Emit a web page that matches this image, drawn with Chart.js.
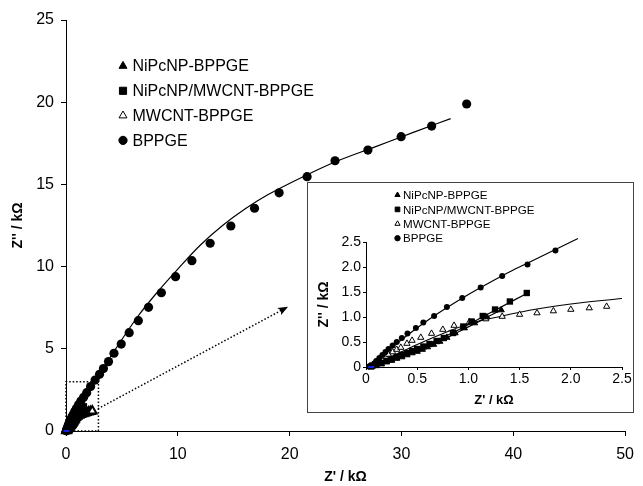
<!DOCTYPE html>
<html>
<head>
<meta charset="utf-8">
<script src="https://cdn.jsdelivr.net/npm/chart.js@4"></script>
<style>
body{margin:0;background:#fff;}
#wrap{position:relative;width:643px;height:486px;}
#wrap canvas{display:block;}
#inset{position:absolute;left:307px;top:182px;width:325px;height:229px;border:1px solid #444;background:#fff;}
</style>
</head>
<body>
<div id="wrap">
  <canvas id="mainChart" width="643" height="486"></canvas>
  <div id="inset"><canvas id="insetChart" width="325" height="229"></canvas></div>
</div>
<script>
// Nyquist plots, Z' / Z'' in kOhm

const seriesNames = ['NiPcNP-BPPGE', 'NiPcNP/MWCNT-BPPGE', 'MWCNT-BPPGE', 'BPPGE'];

// BPPGE (filled circles)
const bppgeX = [0.03,0.05,0.08,0.10,0.13,0.16,0.19,0.22,0.26,0.30,0.35,0.405,0.487,0.56,0.665,0.79,0.94,1.12,1.33,1.577,1.85,2.2,2.6,3.0,3.35,3.8,4.29,4.94,5.65,6.47,7.38,8.53,9.8,11.26,12.89,14.74,16.86,19.06,21.56,24.06,27.0,29.97,32.7,35.83];
const bppgeY = [0.01,0.03,0.07,0.12,0.18,0.24,0.30,0.36,0.43,0.50,0.58,0.67,0.78,0.89,1.02,1.20,1.38,1.59,1.82,2.05,2.33,2.7,3.1,3.45,3.8,4.22,4.73,5.29,5.98,6.71,7.52,8.41,9.39,10.36,11.42,12.47,13.55,14.49,15.47,16.44,17.09,17.90,18.55,19.89];
const bppgeFitX = [0.02,0.1,0.2,0.4,0.6,0.8,1.0,1.2,1.4,1.6,1.85,2.07,2.5,3,4.3,6.4,8.3,10,12,14,16,18,21.3,24,27.7,31,34.4];
const bppgeFitY = [0,0.12,0.3,0.63,0.93,1.2,1.45,1.68,1.9,2.1,2.35,2.57,3.0,3.5,4.85,6.95,8.55,9.85,11.3,12.5,13.5,14.35,15.5,16.35,17.3,18.15,19.0];

// NiPcNP-BPPGE (filled triangles)
const nipcX = [0.06,0.1,0.15,0.2,0.25,0.3,0.35,0.4,0.45,0.5,0.55,0.6,0.66,0.72,0.79,0.87,0.96,1.06,1.18,1.32];
const nipcY = [0.01,0.03,0.06,0.1,0.13,0.17,0.2,0.24,0.28,0.31,0.35,0.4,0.45,0.51,0.59,0.68,0.78,0.88,1.0,1.14];
const nipcFitX = [0.04,0.3,0.6,0.9,1.32];
const nipcFitY = [0,0.17,0.4,0.7,1.14];

// NiPcNP/MWCNT-BPPGE (filled squares)
const hybX = [0.05,0.1,0.15,0.2,0.25,0.3,0.35,0.4,0.45,0.5,0.56,0.62,0.69,0.76,0.85,0.95,1.03,1.14,1.26,1.405,1.57];
const hybY = [0.01,0.04,0.08,0.12,0.16,0.2,0.24,0.28,0.32,0.36,0.41,0.46,0.52,0.58,0.68,0.81,0.91,1.02,1.15,1.31,1.48];
const hybFitX = [0.04,0.3,0.6,0.9,1.2,1.57];
const hybFitY = [0,0.2,0.45,0.74,1.07,1.47];

// MWCNT-BPPGE (open triangles)
const mwX = [0.04,0.07,0.1,0.13,0.16,0.19,0.22,0.26,0.3,0.34,0.4,0.45,0.535,0.64,0.75,0.86,1.01,1.17,1.33,1.5,1.67,1.83,2.0,2.18,2.35];
const mwY = [0.02,0.05,0.09,0.13,0.17,0.21,0.25,0.3,0.35,0.39,0.47,0.53,0.59,0.67,0.75,0.83,0.9,0.96,1.01,1.05,1.08,1.12,1.15,1.18,1.21];
const mwFitX = [0.03,0.2,0.5,0.8,1.0,1.33,1.67,2.0,2.5];
const mwFitY = [0,0.16,0.45,0.71,0.86,1.02,1.16,1.26,1.37];

// zoom box + arrow in the main plot
const zoomBoxX = [0,0,2.9,2.9,0];
const zoomBoxY = [0,3,3,0,0];
const arrowX = [2.85,19.7];
const arrowY = [1.35,7.5];
const originX = [0.05];
const originY = [0];

// tick labels
const mainXTicks = [0,10,20,30,40,50];
const mainYTicks = [0,5,10,15,20,25];
const insetTicks = [0,0.5,1,1.5,2,2.5];

Chart.defaults.font.family = '"Liberation Sans", Arial, sans-serif';
Chart.defaults.color = '#000';

const pts = (xs, ys) => xs.map((x,i)=>({x, y: ys[i]}));
const inRange = (xs, ys, lim) => pts(xs, ys).filter(p => p.x <= lim && p.y <= lim);

// legend drawn inside the plot area
const legendStyles = [
  {style:'triangle', fill:'#000', k:1},
  {style:'rect', fill:'#000', k:1.1},
  {style:'triangle', fill:'#fff', k:1},
  {style:'circle', fill:'#000', k:0.9},
];
const boxLegend = {
  id: 'boxLegend',
  afterDraw(chart, args, opts) {
    const ctx = chart.ctx;
    ctx.save();
    ctx.font = opts.font;
    ctx.textBaseline = 'middle';
    ctx.lineWidth = 1;
    ctx.strokeStyle = '#000';
    seriesNames.forEach((name, i) => {
      const y = opts.y + i*opts.dy;
      const s = legendStyles[i];
      ctx.fillStyle = s.fill;
      Chart.helpers.drawPoint(ctx, {pointStyle:s.style, radius:opts.r*s.k, rotation:0, borderWidth:1}, opts.x, y);
      ctx.fillStyle = '#000';
      ctx.fillText(name, opts.textX, y+1);
    });
    ctx.restore();
  }
};

// arrow head at the end of the dotted arrow
const arrowHead = {
  id: 'arrowHead',
  afterDatasetsDraw(chart) {
    const sx = chart.scales.x, sy = chart.scales.y;
    const x0 = sx.getPixelForValue(arrowX[0]), y0 = sy.getPixelForValue(arrowY[0]);
    const x1 = sx.getPixelForValue(arrowX[1]), y1 = sy.getPixelForValue(arrowY[1]);
    const a = Math.atan2(y1-y0, x1-x0);
    const ctx = chart.ctx;
    ctx.save();
    ctx.translate(x1, y1);
    ctx.rotate(a);
    ctx.fillStyle = '#000';
    ctx.beginPath();
    ctx.moveTo(2, 0);
    ctx.lineTo(-8, -4);
    ctx.lineTo(-6, 0);
    ctx.lineTo(-8, 4);
    ctx.closePath();
    ctx.fill();
    ctx.restore();
  }
};

function markers(data, r) {
  return [
    {data: data.bppge, pointStyle:'circle', pointRadius:r.c, backgroundColor:'#000', borderColor:'#000', borderWidth:0},
    {data: data.nipc, pointStyle:'triangle', pointRadius:r.t, backgroundColor:'#000', borderColor:'#000', borderWidth:1},
    {data: data.hyb, pointStyle:'rect', pointRadius:r.s, backgroundColor:'#000', borderColor:'#000', borderWidth:0},
    {data: data.mw, pointStyle:'triangle', pointRadius:r.t, backgroundColor:'#fff', borderColor:'#000', borderWidth:r.ob},
  ];
}
function fitLine(data) {
  return {data, showLine:true, pointRadius:0, borderColor:'#000', borderWidth:1.2, cubicInterpolationMode:'monotone'};
}
function axis(min, max, ticks, o) {
  return {
    type:'linear', min, max,
    afterBuildTicks: s => { s.ticks = ticks.map(v=>({value:v})); },
    afterFit: o.fit,
    grid: {drawOnChartArea:false, tickLength:o.tl, color:'#000'},
    border: {color:'#000', width:1},
    ticks: {font:{size:o.fs}, color:'#000', padding:o.pad, maxRotation:0},
    title: {display:true, text:o.title, font:{size:o.ts, weight:'bold'}, padding:o.tpad}
  };
}

// main chart
new Chart(document.getElementById('mainChart'), {
  type: 'scatter',
  data: {
    datasets: [
      {data: pts(originX, originY), pointStyle:'line', pointRadius:3, borderColor:'#1020e0', borderWidth:2},
      ...markers({bppge:pts(bppgeX,bppgeY), nipc:pts(nipcX,nipcY), hyb:pts(hybX,hybY), mw:pts(mwX,mwY)}, {c:4.6, t:5, s:5, ob:2}),
      fitLine(pts(bppgeFitX,bppgeFitY)),
      fitLine(pts(nipcFitX,nipcFitY)),
      fitLine(pts(hybFitX,hybFitY)),
      fitLine(pts(mwFitX,mwFitY)),
      {data: pts(zoomBoxX,zoomBoxY), showLine:true, pointRadius:0, borderColor:'#000', borderWidth:1.5, borderDash:[1.5,2]},
      {data: pts(arrowX,arrowY), showLine:true, pointRadius:0, borderColor:'#000', borderWidth:1.5, borderDash:[1.5,2]},
    ]
  },
  options: {
    responsive:false, animation:false, clip:false,
    layout: {padding:{left:0, top:20, right:11, bottom:0}},
    plugins: {legend:{display:false}, tooltip:{enabled:false},
      boxLegend:{x:123, textX:132.5, y:66, dy:24.8, r:4.6, font:'16px "Liberation Sans", Arial, sans-serif'}},
    scales: {
      x: axis(0, 50, mainXTicks, {fit: s=>{ s.height = 55; }, tl:5, fs:16, pad:9, title:"Z' / kΩ", ts:14, tpad:{top:0,bottom:0}}),
      y: axis(0, 25, mainYTicks, {fit: s=>{ s.width = 66; }, tl:5, fs:16, pad:7, title:"Z'' / kΩ", ts:14, tpad:{top:10,bottom:0}}),
    }
  },
  plugins: [boxLegend, arrowHead]
});

// inset (0 - 2.5 kOhm)
new Chart(document.getElementById('insetChart'), {
  type: 'scatter',
  data: {
    datasets: [
      {data: pts(originX, originY), pointStyle:'line', pointRadius:3, borderColor:'#1020e0', borderWidth:2},
      ...markers({bppge:inRange(bppgeX,bppgeY,2.5), nipc:inRange(nipcX,nipcY,2.5), hyb:inRange(hybX,hybY,2.5), mw:inRange(mwX,mwY,2.5)}, {c:3, t:3.6, s:4.5, ob:1}),
      fitLine(inRange(bppgeFitX,bppgeFitY,2.6)),
      fitLine(pts(nipcFitX,nipcFitY)),
      fitLine(pts(hybFitX,hybFitY)),
      fitLine(pts(mwFitX,mwFitY)),
    ]
  },
  options: {
    responsive:false, animation:false, clip:false,
    layout: {padding:{left:0, top:59, right:11, bottom:0}},
    plugins: {legend:{display:false}, tooltip:{enabled:false},
      boxLegend:{x:89.5, textX:95, y:12, dy:14.4, r:3, font:'11.6px "Liberation Sans", Arial, sans-serif'}},
    scales: {
      x: axis(0, 2.5, insetTicks, {fit: s=>{ s.height = 45; }, tl:3, fs:14, pad:1, title:"Z' / kΩ", ts:13, tpad:{top:0,bottom:4}}),
      y: axis(0, 2.5, insetTicks, {fit: s=>{ s.width = 58; }, tl:3, fs:14, pad:2, title:"Z'' / kΩ", ts:14, tpad:{top:8,bottom:0}}),
    }
  },
  plugins: [boxLegend]
});
</script>
</body>
</html>
